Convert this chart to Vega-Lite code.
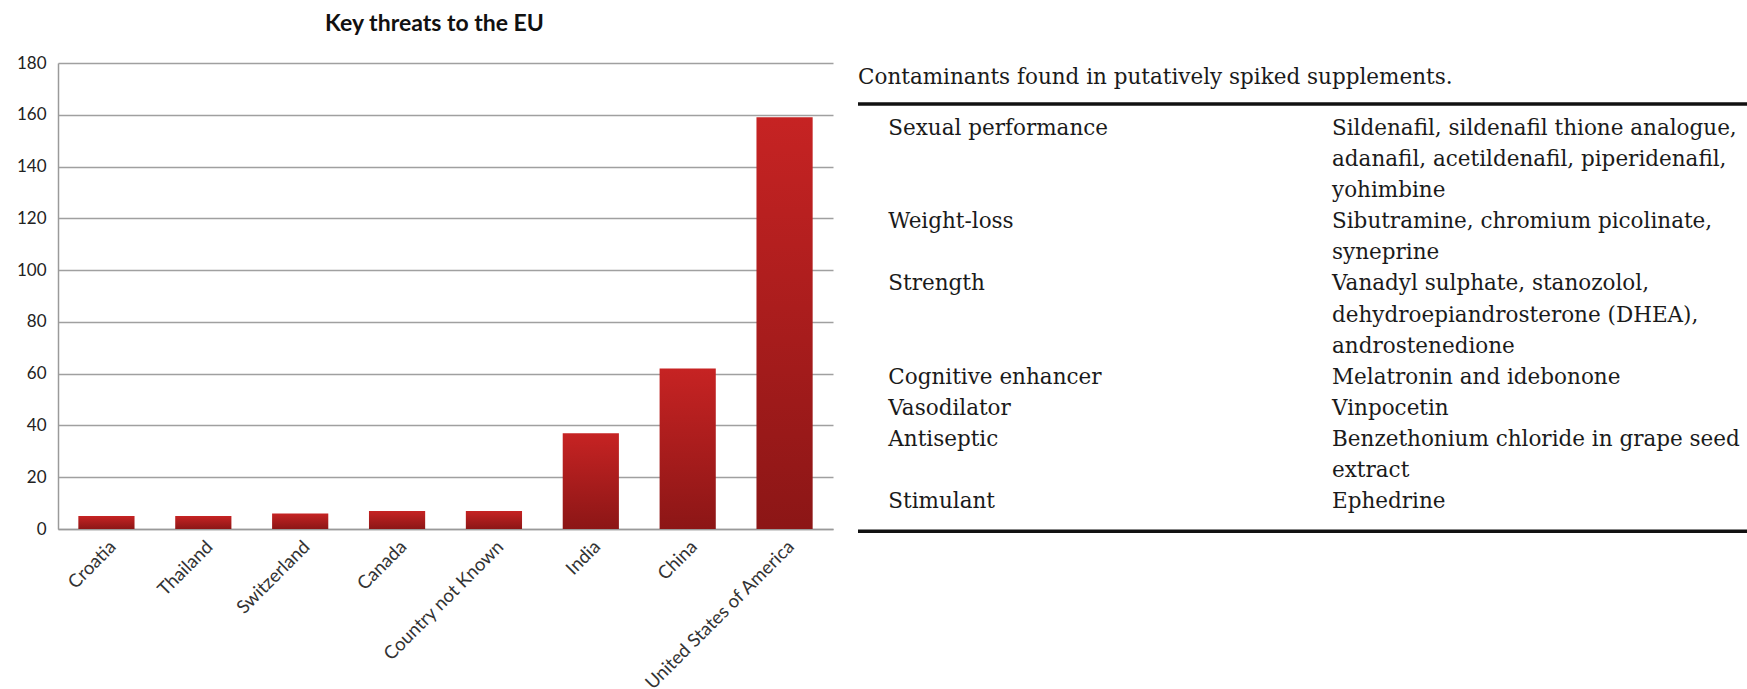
{
  "$schema": "https://vega.github.io/schema/vega-lite/v6.json",
  "background": "white",
  "padding": {"left": 16, "top": 13, "right": 0, "bottom": 0},
  "spacing": 23,
  "config": {
    "view": {"stroke": null},
    "font": "Lato"
  },
  "hconcat": [
    {
      "title": {
        "text": "Key threats to the EU",
        "font": "Lato",
        "fontSize": 23,
        "fontWeight": "bold",
        "color": "#111111",
        "anchor": "middle",
        "baseline": "alphabetic",
        "dx": -11,
        "offset": 0
      },
      "width": 775,
      "height": 466,
      "data": {
        "values": [
          {"country": "Croatia", "count": 5},
          {"country": "Thailand", "count": 5},
          {"country": "Switzerland", "count": 6},
          {"country": "Canada", "count": 7},
          {"country": "Country not Known", "count": 7},
          {"country": "India", "count": 37},
          {"country": "China", "count": 62},
          {"country": "United States of America", "count": 159}
        ]
      },
      "mark": {
        "type": "bar",
        "color": {
          "gradient": "linear",
          "x1": 0, "y1": 0, "x2": 0, "y2": 1,
          "stops": [
            {"offset": 0, "color": "#c62323"},
            {"offset": 1, "color": "#8c1616"}
          ]
        }
      },
      "encoding": {
        "x": {
          "field": "country",
          "type": "nominal",
          "sort": null,
          "scale": {"paddingInner": 0.42, "paddingOuter": 0.21},
          "axis": {
            "title": null,
            "labelAngle": -45,
            "labelFont": "Lato",
            "labelFontSize": 18.5,
            "labelColor": "#333333",
            "labelLimit": 0,
            "ticks": false,
            "labelPadding": 8,
            "domainColor": "#9a9a9a",
            "domainWidth": 1.5
          }
        },
        "y": {
          "field": "count",
          "type": "quantitative",
          "scale": {"domain": [0, 180]},
          "axis": {
            "title": null,
            "values": [0, 20, 40, 60, 80, 100, 120, 140, 160, 180],
            "labelFont": "Lato",
            "labelFontSize": 17,
            "labelColor": "#222222",
            "ticks": false,
            "labelPadding": 12,
            "domainColor": "#9a9a9a",
            "domainWidth": 1.5,
            "gridColor": "#a0a0a0",
            "gridWidth": 1.5
          }
        }
      }
    },
    {
      "width": 891,
      "height": 466,
      "layer": [
        {
          "data": {"values": [{"caption": "Contaminants found in putatively spiked supplements."}]},
          "mark": {"type": "text", "align": "left", "baseline": "middle", "font": "DejaVu Serif", "fontSize": 21.5, "fontWeight": "normal", "color": "#1a1a1a"},
          "encoding": {
            "x": {"datum": 0, "type": "quantitative", "scale": {"domain": [0, 1], "nice": false, "zero": false}, "axis": null},
            "y": {"datum": -1.64, "type": "quantitative", "scale": {"domain": [-2.12, 12.86], "reverse": true, "nice": false, "zero": false}, "axis": null},
            "text": {"field": "caption"}
          }
        },
        {
          "data": {"values": [{"edge": "top"}]},
          "mark": {"type": "rule", "strokeWidth": 3.5, "color": "#111111"},
          "encoding": {
            "x": {"datum": 0, "type": "quantitative"},
            "x2": {"datum": 1},
            "y": {"datum": -0.8, "type": "quantitative"}
          }
        },
        {
          "data": {"values": [{"edge": "bottom"}]},
          "mark": {"type": "rule", "strokeWidth": 3.5, "color": "#111111"},
          "encoding": {
            "x": {"datum": 0, "type": "quantitative"},
            "x2": {"datum": 1},
            "y": {"datum": 12.93, "type": "quantitative"}
          }
        },
        {
          "data": {
            "values": [
              {"line": 0, "column": "Category", "text": "Sexual performance"},
              {"line": 0, "column": "Contaminants", "text": "Sildenafil, sildenafil thione analogue,"},
              {"line": 1, "column": "Contaminants", "text": "adanafil, acetildenafil, piperidenafil,"},
              {"line": 2, "column": "Contaminants", "text": "yohimbine"},
              {"line": 3, "column": "Category", "text": "Weight-loss"},
              {"line": 3, "column": "Contaminants", "text": "Sibutramine, chromium picolinate,"},
              {"line": 4, "column": "Contaminants", "text": "syneprine"},
              {"line": 5, "column": "Category", "text": "Strength"},
              {"line": 5, "column": "Contaminants", "text": "Vanadyl sulphate, stanozolol,"},
              {"line": 6, "column": "Contaminants", "text": "dehydroepiandrosterone (DHEA),"},
              {"line": 7, "column": "Contaminants", "text": "androstenedione"},
              {"line": 8, "column": "Category", "text": "Cognitive enhancer"},
              {"line": 8, "column": "Contaminants", "text": "Melatronin and idebonone"},
              {"line": 9, "column": "Category", "text": "Vasodilator"},
              {"line": 9, "column": "Contaminants", "text": "Vinpocetin"},
              {"line": 10, "column": "Category", "text": "Antiseptic"},
              {"line": 10, "column": "Contaminants", "text": "Benzethonium chloride in grape seed"},
              {"line": 11, "column": "Contaminants", "text": "extract"},
              {"line": 12, "column": "Category", "text": "Stimulant"},
              {"line": 12, "column": "Contaminants", "text": "Ephedrine"}
            ]
          },
          "layer": [
            {
              "transform": [{"filter": "datum.column === 'Category'"}],
              "mark": {"type": "text", "align": "left", "baseline": "middle", "font": "DejaVu Serif", "fontSize": 21.5, "fontWeight": "normal", "color": "#1a1a1a"},
              "encoding": {
                "x": {"datum": 0.034, "type": "quantitative"},
                "y": {"field": "line", "type": "quantitative"},
                "text": {"field": "text"}
              }
            },
            {
              "transform": [{"filter": "datum.column === 'Contaminants'"}],
              "mark": {"type": "text", "align": "left", "baseline": "middle", "font": "DejaVu Serif", "fontSize": 21.5, "fontWeight": "normal", "color": "#1a1a1a"},
              "encoding": {
                "x": {"datum": 0.532, "type": "quantitative"},
                "y": {"field": "line", "type": "quantitative"},
                "text": {"field": "text"}
              }
            }
          ]
        }
      ]
    }
  ]
}
